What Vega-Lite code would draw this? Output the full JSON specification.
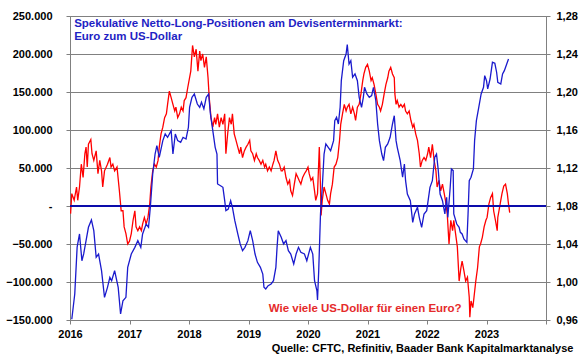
{
"$schema": "https://vega.github.io/schema/vega-lite/v6.json",
"width": 476, "height": 304,
"autosize": {"type": "none"},
"padding": {"left": 70, "top": 16, "right": 34, "bottom": 39},
"background": "white",
"config": {"font": "Liberation Sans", "view": {"stroke": "#808080", "strokeWidth": 1}, "axis": {"labelOverlap": false, "labelFlush": false}},
"title": {"text": "Quelle: CFTC, Refinitiv, Baader Bank Kapitalmarktanalyse", "orient": "bottom", "anchor": "end", "fontSize": 11, "fontWeight": "bold", "color": "#000000", "offset": 4, "dx": -4},
"datasets": {
"fx": [
{"t":2016.01,"v":1.072},{"t":2016.03,"v":1.093},{"t":2016.07,"v":1.086},{"t":2016.11,"v":1.100},{"t":2016.13,"v":1.086},{"t":2016.16,"v":1.100},{"t":2016.19,"v":1.124},{"t":2016.22,"v":1.110},{"t":2016.25,"v":1.135},{"t":2016.27,"v":1.142},{"t":2016.29,"v":1.121},{"t":2016.31,"v":1.145},{"t":2016.35,"v":1.150},{"t":2016.37,"v":1.135},{"t":2016.40,"v":1.128},{"t":2016.44,"v":1.138},{"t":2016.47,"v":1.114},{"t":2016.50,"v":1.128},{"t":2016.53,"v":1.117},{"t":2016.55,"v":1.100},{"t":2016.58,"v":1.117},{"t":2016.63,"v":1.124},{"t":2016.67,"v":1.131},{"t":2016.69,"v":1.121},{"t":2016.72,"v":1.124},{"t":2016.75,"v":1.117},{"t":2016.79,"v":1.121},{"t":2016.83,"v":1.096},{"t":2016.86,"v":1.075},{"t":2016.89,"v":1.075},{"t":2016.91,"v":1.058},{"t":2016.94,"v":1.051},{"t":2016.97,"v":1.040},{"t":2017.00,"v":1.043},{"t":2017.03,"v":1.051},{"t":2017.06,"v":1.065},{"t":2017.09,"v":1.075},{"t":2017.11,"v":1.058},{"t":2017.14,"v":1.054},{"t":2017.17,"v":1.058},{"t":2017.20,"v":1.054},{"t":2017.22,"v":1.061},{"t":2017.25,"v":1.068},{"t":2017.28,"v":1.061},{"t":2017.31,"v":1.068},{"t":2017.34,"v":1.082},{"t":2017.36,"v":1.100},{"t":2017.39,"v":1.117},{"t":2017.42,"v":1.124},{"t":2017.45,"v":1.121},{"t":2017.48,"v":1.128},{"t":2017.50,"v":1.142},{"t":2017.53,"v":1.156},{"t":2017.56,"v":1.163},{"t":2017.59,"v":1.173},{"t":2017.62,"v":1.177},{"t":2017.64,"v":1.187},{"t":2017.67,"v":1.201},{"t":2017.70,"v":1.194},{"t":2017.73,"v":1.187},{"t":2017.76,"v":1.180},{"t":2017.78,"v":1.184},{"t":2017.81,"v":1.173},{"t":2017.84,"v":1.177},{"t":2017.87,"v":1.184},{"t":2017.90,"v":1.180},{"t":2017.92,"v":1.191},{"t":2017.95,"v":1.194},{"t":2017.98,"v":1.205},
{"t":2018.03,"v":1.222},{"t":2018.06,"v":1.249},{"t":2018.09,"v":1.237},{"t":2018.12,"v":1.245},{"t":2018.15,"v":1.222},{"t":2018.18,"v":1.243},{"t":2018.20,"v":1.233},{"t":2018.23,"v":1.240},{"t":2018.26,"v":1.226},{"t":2018.29,"v":1.237},{"t":2018.32,"v":1.215},{"t":2018.34,"v":1.194},{"t":2018.37,"v":1.173},{"t":2018.40,"v":1.163},{"t":2018.43,"v":1.173},{"t":2018.45,"v":1.166},{"t":2018.48,"v":1.177},{"t":2018.51,"v":1.163},{"t":2018.54,"v":1.173},{"t":2018.57,"v":1.166},{"t":2018.60,"v":1.177},{"t":2018.62,"v":1.135},{"t":2018.65,"v":1.156},{"t":2018.68,"v":1.173},{"t":2018.71,"v":1.166},{"t":2018.73,"v":1.177},{"t":2018.76,"v":1.156},{"t":2018.79,"v":1.149},{"t":2018.82,"v":1.142},{"t":2018.85,"v":1.135},{"t":2018.87,"v":1.142},{"t":2018.90,"v":1.131},{"t":2018.93,"v":1.138},{"t":2018.96,"v":1.142},{"t":2018.99,"v":1.145},{"t":2019.02,"v":1.149},{"t":2019.04,"v":1.138},{"t":2019.07,"v":1.135},{"t":2019.10,"v":1.128},{"t":2019.13,"v":1.135},{"t":2019.15,"v":1.131},{"t":2019.18,"v":1.128},{"t":2019.21,"v":1.124},{"t":2019.24,"v":1.128},{"t":2019.27,"v":1.121},{"t":2019.29,"v":1.124},{"t":2019.32,"v":1.117},{"t":2019.35,"v":1.121},{"t":2019.38,"v":1.117},{"t":2019.41,"v":1.124},{"t":2019.43,"v":1.128},{"t":2019.46,"v":1.138},{"t":2019.49,"v":1.128},{"t":2019.52,"v":1.124},{"t":2019.55,"v":1.117},{"t":2019.57,"v":1.117},{"t":2019.60,"v":1.121},{"t":2019.63,"v":1.110},{"t":2019.66,"v":1.103},{"t":2019.69,"v":1.107},{"t":2019.71,"v":1.096},{"t":2019.74,"v":1.091},{"t":2019.77,"v":1.103},{"t":2019.80,"v":1.114},{"t":2019.83,"v":1.110},{"t":2019.85,"v":1.107},{"t":2019.88,"v":1.103},{"t":2019.91,"v":1.110},{"t":2019.94,"v":1.114},{"t":2019.97,"v":1.117},{"t":2020.00,"v":1.121},
{"t":2020.02,"v":1.114},{"t":2020.05,"v":1.107},{"t":2020.08,"v":1.110},{"t":2020.11,"v":1.096},{"t":2020.13,"v":1.086},{"t":2020.16,"v":1.093},{"t":2020.19,"v":1.142},{"t":2020.21,"v":1.100},{"t":2020.22,"v":1.070},{"t":2020.24,"v":1.086},{"t":2020.27,"v":1.100},{"t":2020.30,"v":1.093},{"t":2020.33,"v":1.086},{"t":2020.36,"v":1.082},{"t":2020.38,"v":1.093},{"t":2020.41,"v":1.103},{"t":2020.44,"v":1.121},{"t":2020.47,"v":1.124},{"t":2020.50,"v":1.131},{"t":2020.53,"v":1.149},{"t":2020.55,"v":1.166},{"t":2020.58,"v":1.177},{"t":2020.61,"v":1.187},{"t":2020.64,"v":1.180},{"t":2020.66,"v":1.184},{"t":2020.69,"v":1.187},{"t":2020.72,"v":1.177},{"t":2020.75,"v":1.184},{"t":2020.78,"v":1.177},{"t":2020.80,"v":1.170},{"t":2020.83,"v":1.184},{"t":2020.86,"v":1.187},{"t":2020.89,"v":1.198},{"t":2020.92,"v":1.212},{"t":2020.94,"v":1.219},{"t":2020.97,"v":1.226},{"t":2021.00,"v":1.229},{"t":2021.03,"v":1.222},{"t":2021.06,"v":1.212},{"t":2021.08,"v":1.215},{"t":2021.11,"v":1.208},{"t":2021.14,"v":1.198},{"t":2021.17,"v":1.187},{"t":2021.20,"v":1.184},{"t":2021.22,"v":1.180},{"t":2021.25,"v":1.187},{"t":2021.28,"v":1.198},{"t":2021.31,"v":1.208},{"t":2021.34,"v":1.215},{"t":2021.36,"v":1.222},{"t":2021.39,"v":1.226},{"t":2021.42,"v":1.219},{"t":2021.45,"v":1.215},{"t":2021.46,"v":1.198},{"t":2021.48,"v":1.187},{"t":2021.50,"v":1.191},{"t":2021.53,"v":1.184},{"t":2021.56,"v":1.187},{"t":2021.59,"v":1.184},{"t":2021.62,"v":1.187},{"t":2021.64,"v":1.180},{"t":2021.67,"v":1.177},{"t":2021.70,"v":1.180},{"t":2021.73,"v":1.170},{"t":2021.76,"v":1.163},{"t":2021.78,"v":1.166},{"t":2021.81,"v":1.156},{"t":2021.84,"v":1.149},{"t":2021.87,"v":1.135},{"t":2021.89,"v":1.121},{"t":2021.92,"v":1.128},{"t":2021.95,"v":1.131},{"t":2021.98,"v":1.128},{"t":2022.01,"v":1.135},
{"t":2022.03,"v":1.142},{"t":2022.06,"v":1.131},{"t":2022.09,"v":1.145},{"t":2022.12,"v":1.128},{"t":2022.15,"v":1.117},{"t":2022.17,"v":1.100},{"t":2022.20,"v":1.107},{"t":2022.23,"v":1.096},{"t":2022.26,"v":1.103},{"t":2022.29,"v":1.093},{"t":2022.31,"v":1.086},{"t":2022.34,"v":1.072},{"t":2022.37,"v":1.040},{"t":2022.40,"v":1.065},{"t":2022.43,"v":1.054},{"t":2022.45,"v":1.065},{"t":2022.48,"v":1.051},{"t":2022.51,"v":1.037},{"t":2022.54,"v":1.001},{"t":2022.57,"v":1.015},{"t":2022.59,"v":1.022},{"t":2022.62,"v":1.012},{"t":2022.65,"v":1.001},{"t":2022.68,"v":1.005},{"t":2022.71,"v":0.984},{"t":2022.72,"v":0.963},{"t":2022.74,"v":0.980},{"t":2022.77,"v":0.973},{"t":2022.79,"v":0.984},{"t":2022.82,"v":1.001},{"t":2022.85,"v":1.015},{"t":2022.88,"v":1.037},{"t":2022.90,"v":1.040},{"t":2022.93,"v":1.047},{"t":2022.96,"v":1.058},{"t":2022.99,"v":1.065},{"t":2023.01,"v":1.068},{"t":2023.04,"v":1.082},{"t":2023.07,"v":1.089},{"t":2023.10,"v":1.093},{"t":2023.12,"v":1.075},{"t":2023.15,"v":1.065},{"t":2023.18,"v":1.054},{"t":2023.19,"v":1.068},{"t":2023.21,"v":1.075},{"t":2023.24,"v":1.086},{"t":2023.26,"v":1.093},{"t":2023.29,"v":1.101},{"t":2023.32,"v":1.103},{"t":2023.35,"v":1.093},{"t":2023.37,"v":1.082},{"t":2023.39,"v":1.073}
],
"pos": [
{"t":2016.03,"v":-149000},{"t":2016.08,"v":-115800},{"t":2016.12,"v":-54000},{"t":2016.16,"v":-36800},{"t":2016.20,"v":-72000},{"t":2016.23,"v":-63000},{"t":2016.27,"v":-45700},{"t":2016.31,"v":-28000},{"t":2016.36,"v":-18400},{"t":2016.40,"v":-32500},{"t":2016.44,"v":-67500},{"t":2016.48,"v":-63200},{"t":2016.53,"v":-85100},{"t":2016.58,"v":-120200},{"t":2016.63,"v":-107000},{"t":2016.67,"v":-93800},{"t":2016.70,"v":-98300},{"t":2016.75,"v":-85100},{"t":2016.81,"v":-107000},{"t":2016.85,"v":-142100},{"t":2016.89,"v":-124600},{"t":2016.94,"v":-120200},{"t":2016.97,"v":-80700},
{"t":2017.03,"v":-63200},{"t":2017.09,"v":-54400},{"t":2017.14,"v":-45600},{"t":2017.19,"v":-54400},{"t":2017.22,"v":-36800},{"t":2017.28,"v":-23700},{"t":2017.32,"v":-28000},{"t":2017.35,"v":-1700},{"t":2017.39,"v":42100},{"t":2017.43,"v":68400},{"t":2017.46,"v":79400},{"t":2017.50,"v":64100},{"t":2017.56,"v":86000},{"t":2017.60,"v":94800},{"t":2017.64,"v":90400},{"t":2017.70,"v":99100},{"t":2017.73,"v":68400},{"t":2017.77,"v":94800},{"t":2017.81,"v":86000},{"t":2017.86,"v":83800},{"t":2017.90,"v":90400},{"t":2017.95,"v":88200},{"t":2017.99,"v":103600},
{"t":2018.01,"v":129900},{"t":2018.05,"v":143000},{"t":2018.09,"v":147400},{"t":2018.14,"v":134200},{"t":2018.18,"v":129900},{"t":2018.21,"v":136500},{"t":2018.25,"v":127700},{"t":2018.29,"v":143000},{"t":2018.33,"v":147400},{"t":2018.36,"v":121100},{"t":2018.40,"v":99100},{"t":2018.44,"v":77200},{"t":2018.47,"v":68400},{"t":2018.48,"v":29000},{"t":2018.53,"v":26700},{"t":2018.57,"v":24600},{"t":2018.60,"v":7000},{"t":2018.62,"v":-6100},{"t":2018.66,"v":-4000},{"t":2018.70,"v":7000},{"t":2018.73,"v":-1700},{"t":2018.77,"v":-19300},{"t":2018.82,"v":-36800},{"t":2018.86,"v":-50000},{"t":2018.90,"v":-58800},{"t":2018.94,"v":-54400},{"t":2018.99,"v":-45600},
{"t":2019.03,"v":-32500},{"t":2019.07,"v":-45600},{"t":2019.11,"v":-63200},{"t":2019.15,"v":-74100},{"t":2019.20,"v":-80700},{"t":2019.24,"v":-89500},{"t":2019.26,"v":-107000},{"t":2019.29,"v":-109200},{"t":2019.33,"v":-104900},{"t":2019.38,"v":-102600},{"t":2019.42,"v":-98300},{"t":2019.46,"v":-80700},{"t":2019.48,"v":-54400},{"t":2019.50,"v":-32500},{"t":2019.55,"v":-41200},{"t":2019.59,"v":-50000},{"t":2019.63,"v":-45600},{"t":2019.67,"v":-58800},{"t":2019.71,"v":-63200},{"t":2019.76,"v":-76300},{"t":2019.80,"v":-63200},{"t":2019.84,"v":-54400},{"t":2019.88,"v":-61000},{"t":2019.94,"v":-63200},{"t":2019.98,"v":-72000},
{"t":2020.04,"v":-54400},{"t":2020.08,"v":-63200},{"t":2020.11,"v":-98300},{"t":2020.15,"v":-111500},{"t":2020.16,"v":-123700},{"t":2020.18,"v":-85100},{"t":2020.21,"v":-10500},{"t":2020.24,"v":24600},{"t":2020.27,"v":68400},{"t":2020.30,"v":81600},{"t":2020.34,"v":77200},{"t":2020.38,"v":72800},{"t":2020.43,"v":86000},{"t":2020.45,"v":112300},{"t":2020.48,"v":116700},{"t":2020.51,"v":107900},{"t":2020.54,"v":129900},{"t":2020.56,"v":164900},{"t":2020.60,"v":191200},{"t":2020.64,"v":200000},{"t":2020.66,"v":212300},{"t":2020.69,"v":186900},{"t":2020.72,"v":191200},{"t":2020.75,"v":169400},{"t":2020.79,"v":173700},{"t":2020.83,"v":164900},{"t":2020.86,"v":143000},{"t":2020.90,"v":129900},{"t":2020.93,"v":143000},{"t":2020.95,"v":156200},{"t":2020.99,"v":147400},
{"t":2021.03,"v":143000},{"t":2021.07,"v":145200},{"t":2021.10,"v":156200},{"t":2021.14,"v":138600},{"t":2021.17,"v":107900},{"t":2021.20,"v":86000},{"t":2021.24,"v":68400},{"t":2021.27,"v":59600},{"t":2021.30,"v":77200},{"t":2021.34,"v":81600},{"t":2021.38,"v":90400},{"t":2021.42,"v":107900},{"t":2021.45,"v":118800},{"t":2021.48,"v":86000},{"t":2021.50,"v":77200},{"t":2021.55,"v":59600},{"t":2021.59,"v":37800},{"t":2021.62,"v":55300},{"t":2021.64,"v":33300},{"t":2021.67,"v":15800},{"t":2021.72,"v":7000},{"t":2021.76,"v":-21500},{"t":2021.79,"v":-10500},{"t":2021.84,"v":-1700},{"t":2021.87,"v":-14900},{"t":2021.91,"v":-28000},{"t":2021.95,"v":-10500},{"t":2021.995,"v":-6100},
{"t":2022.05,"v":24600},{"t":2022.09,"v":33300},{"t":2022.13,"v":64100},{"t":2022.16,"v":68400},{"t":2022.19,"v":46500},{"t":2022.22,"v":15800},{"t":2022.26,"v":7000},{"t":2022.30,"v":-10500},{"t":2022.33,"v":11400},{"t":2022.35,"v":-14900},{"t":2022.39,"v":24600},{"t":2022.41,"v":48700},{"t":2022.44,"v":46500},{"t":2022.45,"v":-10500},{"t":2022.50,"v":-23700},{"t":2022.54,"v":-28000},{"t":2022.56,"v":-34600},{"t":2022.59,"v":-36800},{"t":2022.62,"v":-43400},{"t":2022.67,"v":-47800},{"t":2022.69,"v":-10500},{"t":2022.71,"v":33300},{"t":2022.74,"v":37800},{"t":2022.78,"v":48700},{"t":2022.80,"v":86000},{"t":2022.83,"v":112300},{"t":2022.87,"v":129900},{"t":2022.91,"v":147400},{"t":2022.95,"v":156200},{"t":2022.97,"v":171500},
{"t":2023.00,"v":164900},{"t":2023.02,"v":154000},{"t":2023.06,"v":167100},{"t":2023.10,"v":189100},{"t":2023.14,"v":187800},{"t":2023.17,"v":176000},{"t":2023.19,"v":162800},{"t":2023.24,"v":160600},{"t":2023.27,"v":173700},{"t":2023.30,"v":178100},{"t":2023.34,"v":186900},{"t":2023.37,"v":193400}
]
},
"layer": [
{
"data": {"name": "fx"},
"mark": {"type": "line", "color": "#ff0000", "strokeWidth": 1.3, "interpolate": "linear"},
"encoding": {
"x": {"field": "t", "type": "quantitative",
"scale": {"domain": [2016, 2024], "nice": false, "zero": false},
"axis": {"title": null, "values": [2016,2017,2018,2019,2020,2021,2022,2023,2024], "labelExpr": "datum.value == 2024 ? '' : format(datum.value, 'd')", "grid": false, "tickSize": 4, "tickColor": "#808080", "domainColor": "#808080", "labelFontSize": 11, "labelFontWeight": "bold", "labelColor": "#000000", "labelPadding": 4}},
"y": {"field": "v", "type": "quantitative",
"scale": {"domain": [0.96, 1.28], "nice": false, "zero": false},
"axis": {"orient": "right", "title": null, "values": [0.96,1.00,1.04,1.08,1.12,1.16,1.20,1.24,1.28], "labelExpr": "replace(format(datum.value, '.2f'), '.', ',')", "grid": false, "tickSize": 4, "tickColor": "#808080", "domainColor": "#808080", "labelFontSize": 11, "labelFontWeight": "bold", "labelColor": "#000000", "labelPadding": 6, "labelOverlap": false}}
}
},
{
"layer": [
{
"data": {"values": [{}]},
"mark": {"type": "rule", "color": "#0c0caa", "strokeWidth": 2},
"encoding": {"y": {"datum": 1.08, "type": "quantitative", "scale": {"domain": [0.96, 1.28], "nice": false, "zero": false}, "axis": null}}
},
{
"data": {"values": [{}]},
"mark": {"type": "text", "align": "left", "baseline": "top", "fontSize": 11.5, "fontWeight": "bold", "color": "#1f1fc4", "lineHeight": 12.5},
"encoding": {"x": {"datum": 2016.07, "type": "quantitative"}, "y": {"datum": 1.2778, "type": "quantitative", "axis": null}, "text": {"value": ["Spekulative Netto-Long-Positionen am Devisenterminmarkt:", "Euro zum US-Dollar"]}}
},
{
"data": {"values": [{}]},
"mark": {"type": "text", "align": "left", "baseline": "middle", "fontSize": 11.5, "fontWeight": "bold", "color": "#e52b2b"},
"encoding": {"x": {"datum": 2019.34, "type": "quantitative"}, "y": {"datum": 0.9716, "type": "quantitative", "axis": null}, "text": {"value": "Wie viele US-Dollar für einen Euro?"}}
}
]
},
{
"data": {"name": "pos"},
"mark": {"type": "line", "color": "#1a1acd", "strokeWidth": 1.3},
"encoding": {
"x": {"field": "t", "type": "quantitative"},
"y": {"field": "v", "type": "quantitative",
"scale": {"domain": [-150000, 250000], "nice": false, "zero": false},
"axis": {"orient": "left", "title": null, "values": [-150000,-100000,-50000,0,50000,100000,150000,200000,250000], "labelExpr": "datum.value == 0 ? '-' : replace(format(datum.value, ','), ',', '.')", "grid": true, "gridColor": "#808080", "gridWidth": 1, "tickSize": 4, "tickColor": "#808080", "domainColor": "#808080", "labelFontSize": 11, "labelFontWeight": "bold", "labelColor": "#000000", "labelPadding": 14, "labelOverlap": false}}
}
}
],
"resolve": {"scale": {"y": "independent"}}
}
